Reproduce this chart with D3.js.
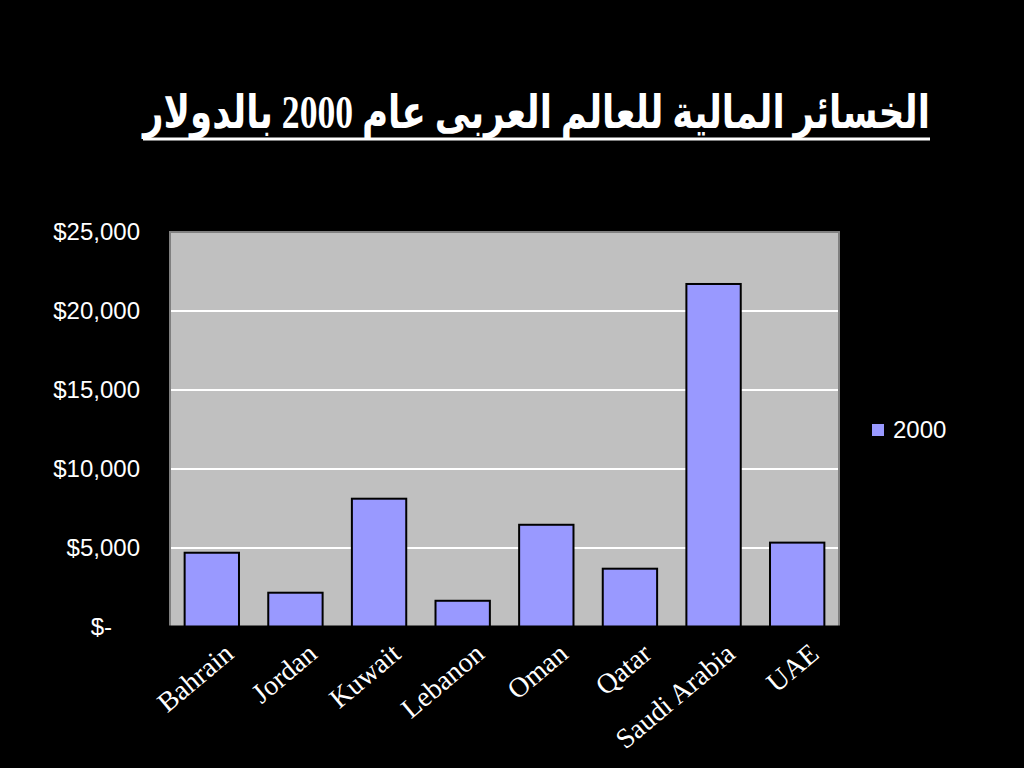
<!DOCTYPE html>
<html><head><meta charset="utf-8">
<script src="https://cdn.jsdelivr.net/npm/d3@7"></script>
<style>body{margin:0;background:#000;overflow:hidden}</style>
</head><body><svg id="c" width="1024" height="768"></svg>
<script>
const titleText = "الخسائر المالية للعالم العربى عام 2000 بالدولار";
const categories = ["Bahrain","Jordan","Kuwait","Lebanon","Oman","Qatar","Saudi Arabia","UAE"];
const seriesName = "2000";
const values = [4700,2170,8120,1660,6470,3690,21710,5340];
const yTicks = [0,5000,10000,15000,20000,25000];

const svg = d3.select("#c");
svg.append("rect").attr("width",1024).attr("height",768).attr("fill","#000");

const plot = {l:170, r:839, t:232, b:627};
const x = d3.scaleBand().domain(categories).range([plot.l, plot.r]).paddingInner(0.35).paddingOuter(0.175);
const y = d3.scaleLinear().domain([0,25000]).range([plot.b, plot.t]);

// plot area
svg.append("rect").attr("x",plot.l).attr("y",plot.t).attr("width",plot.r-plot.l).attr("height",plot.b-plot.t)
  .attr("fill","#c0c0c0").attr("stroke","#808080").attr("stroke-width",2);

// gridlines
svg.append("g").selectAll("line").data(yTicks.filter(d=>d>0 && d<25000)).join("line")
  .attr("x1",plot.l+1).attr("x2",plot.r-1).attr("y1",d=>y(d)).attr("y2",d=>y(d))
  .attr("stroke","#fff").attr("stroke-width",2);

// bars
svg.append("g").selectAll("rect").data(values).join("rect")
  .attr("x",(d,i)=>x(categories[i])).attr("width",x.bandwidth())
  .attr("y",d=>y(d)).attr("height",d=>y(0)-y(d))
  .attr("fill","#9999ff").attr("stroke","#000").attr("stroke-width",2);

// bottom axis line
svg.append("line").attr("x1",plot.l-1).attr("x2",plot.r+1).attr("y1",plot.b).attr("y2",plot.b)
  .attr("stroke","#000").attr("stroke-width",3);

// y axis
const fmt = d => d===0 ? "$-" : d3.format("$,")(d);
const yAxis = svg.append("g").attr("transform",`translate(${plot.l},0)`)
  .call(d3.axisLeft(y).tickValues(yTicks).tickFormat(fmt).tickSize(0).tickPadding(30));
yAxis.select(".domain").remove();
yAxis.selectAll("text").attr("fill","#fff").attr("font-family","'Liberation Sans',Arial,sans-serif")
  .attr("font-size",24).attr("x",d=>d===0?-58:-30);

// x axis
const xAxis = svg.append("g").attr("transform",`translate(0,${plot.b})`)
  .call(d3.axisBottom(x).tickSize(0));
xAxis.select(".domain").remove();
xAxis.selectAll("text").attr("fill","#fff").attr("font-family","'Liberation Serif','Times New Roman',serif")
  .attr("font-size",28).attr("text-anchor","end").attr("x",0).attr("y",0).attr("dy","0.35em")
  .attr("transform","translate(17,22) rotate(-40)");

// legend
const lg = svg.append("g").attr("transform","translate(872,424)");
lg.append("rect").attr("width",12).attr("height",12).attr("fill","#9999ff");
lg.append("text").attr("x",21).attr("y",6).attr("dy","0.35em").attr("fill","#fff")
  .attr("font-family","'Liberation Sans',Arial,sans-serif").attr("font-size",24).text(seriesName);

// title
const tl = 143, tr = 930, cx = (tl+tr)/2;
const tg = svg.append("g");
const t = tg.append("text").attr("x",0).attr("y",0).attr("text-anchor","middle")
  .attr("direction","rtl").attr("fill","#fff").attr("font-weight","bold")
  .attr("font-family","'Liberation Serif','DejaVu Sans',serif").attr("font-size",46).text(titleText);
const w = t.node().getComputedTextLength();
tg.attr("transform",`translate(${cx},128) scale(${(tr-tl)/w},1)`);
svg.append("line").attr("x1",tl).attr("x2",tr).attr("y1",139).attr("y2",139).attr("stroke","#fff").attr("stroke-width",3);
</script></body></html>
